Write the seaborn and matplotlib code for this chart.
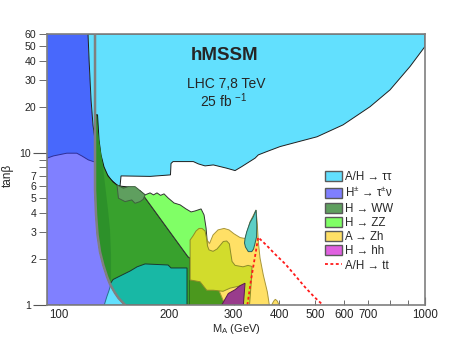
import matplotlib
matplotlib.use("Agg")
import matplotlib.pyplot as plt
from matplotlib.patches import Patch
from matplotlib.lines import Line2D
import seaborn as sns

# ---------------------------------------------------------------
# exclusion contours (mA in GeV, tan beta)
# ---------------------------------------------------------------
# grey limit curve
lep_mA = [125.4, 125.4, 126.2, 127.4, 129.4, 132.1, 135.3, 137.8, 142.2, 145.4, 151.5]
lep_tanb = [60, 5.7, 3.9, 2.88, 2.23, 1.83, 1.53, 1.37, 1.2, 1.11, 1.0]

# H+ -> tau nu, upper (dark blue) part
hpup_mA = [92.7, 120.0, 120.8, 122.3, 123.8, 125.4, 125.4, 92.7]
hpup_tanb = [60, 60, 40.6, 22.2, 15.2, 12.1, 8.0, 8.0]

# H+ -> tau nu, top edge of the lower part (right edge = grey curve)
hp_mA = [92.7, 96.5, 105.0, 111.8, 115.4, 120.2, 124.1, 125.4]
hp_tanb = [9.19, 9.51, 9.91, 9.91, 9.51, 8.96, 8.73, 8.69]

# A/H -> tautau, high tan beta
tautau_mA = [120.0, 1000, 1000, 910, 802.5, 707.6, 597, 507, 427.7, 401.7, 369.4,
             350.4, 343.2, 315.6, 302.7, 287.2, 264.0, 250.6, 240.3, 232.8, 204.9,
             202.3, 201.6, 177.3, 147.7, 146.8, 144.9, 138.7, 133.6, 130.2, 127.8,
             125.4, 123.8, 122.3, 120.8]
tautau_tanb = [60, 60, 49.7, 36.7, 25.8, 20.0, 15.2, 12.7, 11.4, 10.95, 10.15,
               9.66, 9.19, 8.09, 7.62, 7.90, 8.30, 8.18, 8.43, 8.73, 8.73,
               8.49, 7.14, 6.98, 7.03, 6.05, 6.05, 6.62, 7.47, 8.69, 10.1,
               12.1, 15.2, 22.2, 40.6]

# A/H -> tautau, low tan beta bits
taulow_mA = [132.9, 135.0, 137.0, 138.3, 142.2, 145.4, 151.5]
taulow_tanb = [1.0, 1.13, 1.25, 1.35, 1.2, 1.11, 1.0]

teal_mA = [137.8, 140.5, 146.8, 156.3, 163.4, 171.8, 198.6, 202.3, 223.7, 223.7,
           151.5, 145.4, 142.2]
teal_tanb = [1.37, 1.47, 1.55, 1.67, 1.78, 1.86, 1.83, 1.75, 1.75, 1.0,
             1.0, 1.11, 1.2]

# H -> WW (green), upper/right edge, closed along the grey curve
ww_mA = [126.0, 127.4, 128.6, 130.2, 132.7, 136.1, 140.5, 144.9, 154.3, 166.5,
         225.2, 228.1, 228.1]
ww_tanb = [17.7, 17.7, 12.1, 9.66, 8.06, 7.03, 6.42, 6.05, 5.95, 5.61,
           2.07, 2.03, 1.0]

wwstrip_mA = [126.0, 128.6, 131.1, 133.6, 136.1, 137.8, 138.7, 138.7]
wwstrip_tanb = [17.7, 12.1, 8.96, 6.14, 4.20, 3.11, 2.13, 1.42]

wwblob_mA = [144.0, 145.3, 151.5, 158.0, 161.3, 166.5, 169.9, 171.8, 164.7, 161.3, 154.6, 149.8]
wwblob_tanb = [6.14, 5.02, 4.77, 4.89, 4.65, 4.77, 4.94, 5.28, 5.75, 5.98, 5.98, 5.84]

# H -> ZZ
zz_mA = [166.5, 171.8, 177.3, 181.2, 185.2, 189.4, 193.6, 198.6, 206.2, 214.2,
         222.3, 229.5, 235.3, 244.4, 249.0, 252.2, 253.8, 253.8, 228.1, 225.2]
zz_tanb = [5.61, 5.28, 5.44, 5.28, 5.44, 5.24, 5.36, 5.04, 4.67, 4.54,
           4.27, 4.08, 4.14, 4.27, 3.90, 3.20, 2.67, 1.92, 2.03, 2.07]

# A -> Zh
zh_mA = [253.8, 257.7, 263.5, 271.9, 282.4, 291.4, 300.8, 312.4, 322.3, 332.6,
         345.4, 348.2, 350.4, 354.2, 361.6, 370.8, 375.5, 284.2, 253.8]
zh_tanb = [2.67, 2.53, 2.88, 3.11, 3.18, 3.11, 2.93, 2.77, 2.73, 3.51,
           4.20, 3.35, 2.59, 2.03, 1.57, 1.22, 1.0, 1.0, 1.92]
zhbump_mA = [381, 386, 390, 395, 399]
zhbump_tanb = [1.0, 1.06, 1.09, 1.06, 1.0]

# A -> Zh overlapping H -> ZZ
zhzz_mA = [228.1, 228.1, 232.3, 236.8, 241.3, 245.9, 250.6, 252.9, 254.5, 256.9,
           263.5, 270.2, 275.4, 281.1, 287.2, 292.0, 294.2, 297.0, 302.7, 318.2,
           328.4, 336.8, 334.7, 331.5, 318.9, 318.9, 293.3, 280.6, 264.0, 253.3, 242.9]
zhzz_tanb = [1.46, 2.67, 2.84, 3.06, 3.18, 3.18, 3.06, 2.75, 2.44, 2.30,
             2.25, 2.33, 2.46, 2.61, 2.63, 2.52, 2.23, 1.93, 1.82, 1.78,
             1.82, 1.79, 1.35, 1.0, 1.0, 1.35, 1.29, 1.23, 1.25, 1.25, 1.42]
olive_mA = [228.1, 320.0, 320.0, 228.1]
olive_tanb = [1.0, 1.0, 1.5, 1.5]

# A/H -> tautau low tan beta inside A -> Zh
drop_mA = [322.3, 325.7, 332.6, 339.6, 343.2, 345.4, 347.0, 346.5, 343.2, 340.0,
           336.2, 329.0, 323.2, 321.2]
drop_tanb = [2.73, 3.02, 3.48, 3.80, 4.05, 4.20, 3.35, 2.80, 2.54, 2.33,
             2.24, 2.24, 2.40, 2.55]

# H -> hh
hh_mA = [278.3, 290.1, 302.7, 312.4, 322.3, 318.9]
hh_tanb = [1.0, 1.19, 1.26, 1.34, 1.39, 1.0]

# A/H -> tt (expected, dashed)
tt_mA = [327, 329, 334, 340, 345, 350, 368, 389, 415, 441, 470, 498, 526]
tt_tanb = [1.0, 1.1, 1.42, 1.83, 2.24, 2.78, 2.48, 2.16, 1.86, 1.57, 1.31, 1.13, 1.0]

legend_labels = ["A/H → ττ", "H$^{\\pm}$ → τ$^{\\pm}$ν", "H → WW", "H → ZZ",
                 "A → Zh", "H → hh", "A/H → tt"]
legend_colors = ["#62DFFE", "#7F7FFF", "#5F9F5F", "#80FF66", "#FFE066", "#E060E0"]

x_ticks = [200, 300, 400, 500, 600, 700, 800, 900]
x_ticklabels = ["200", "300", "400", "500", "600", "700", "", ""]
y_ticks = [2, 3, 4, 5, 6, 7, 8, 9, 20, 30, 40, 50, 60]
y_ticklabels = ["2", "3", "4", "5", "6", "7", "", "", "20", "30", "40", "50", "60"]

# ---------------------------------------------------------------
sns.set_style("ticks")
plt.rcParams["font.family"] = ["Liberation Sans", "DejaVu Sans"]
plt.rcParams["mathtext.fontset"] = "custom"
plt.rcParams["mathtext.rm"] = "Liberation Sans"
plt.rcParams["mathtext.it"] = "Liberation Sans:italic"

fig = plt.figure(figsize=(4.73, 3.40), dpi=100)
ax = fig.add_axes([47 / 473, 35 / 340, 378 / 473, 271 / 340])
ax.set_xscale("log")
ax.set_yscale("log")


def region(xs, ys, fc, ec="none", lw=0.7):
    ax.fill(xs, ys, facecolor=fc, edgecolor=ec, linewidth=lw)


# the lower H+ region and the WW region are closed along the grey curve
lep_low = [i for i, t in enumerate(lep_tanb) if t < 8.69]
hp_x = hp_mA + [lep_mA[i] for i in lep_low] + [92.7]
hp_y = hp_tanb + [lep_tanb[i] for i in lep_low] + [1.0]
ww_x = ww_mA + [lep_mA[i] for i in reversed(lep_low)]
ww_y = ww_tanb + [lep_tanb[i] for i in reversed(lep_low)]
strip_low = [i for i in reversed(lep_low) if lep_tanb[i] > 1.4]
strip_x = wwstrip_mA + [lep_mA[i] for i in strip_low]
strip_y = wwstrip_tanb + [lep_tanb[i] for i in strip_low]

region(hpup_mA, hpup_tanb, "#4868FC")
region(hp_x, hp_y, "#8080FF", "#2E2E96")
region(tautau_mA, tautau_tanb, "#62E0FE", "#1E1E1E")
region(taulow_mA, taulow_tanb, "#62E0FE", "#2B6F8F")
region(ww_x, ww_y, "#38A12D", "#151515")
region(strip_x, strip_y, "#2D912A")
region(teal_mA, teal_tanb, "#18B8A5", "#1A3A30")
region(zz_mA, zz_tanb, "#80FF66", "#333333")
region(wwblob_mA, wwblob_tanb, "#5F9F5F", "#3F5F3F")
region(olive_mA, olive_tanb, "#4B981E")
region(zh_mA, zh_tanb, "#FFE066", "#A8963A")
region(zhbump_mA, zhbump_tanb, "#FFE066", "#A8963A")
region(zhzz_mA, zhzz_tanb, "#D2DC2C", "#8C8C28")
region(drop_mA, drop_tanb, "#5BCFC5", "#2A5F5A")
region(hh_mA, hh_tanb, "#993C8C", "#5A1A50")

sns.lineplot(x=lep_mA, y=lep_tanb, sort=False, color="#808080", linewidth=1.8,
             estimator=None, ax=ax)
sns.lineplot(x=tt_mA, y=tt_tanb, sort=False, color="#FF1A1A", linewidth=1.3,
             estimator=None, ax=ax, linestyle=(0, (1.6, 1.4)))

ax.set_xlim(92.7, 1000)
ax.set_ylim(1, 60)

ax.set_xticks([100, 1000], labels=["100", "1000"])
ax.set_xticks(x_ticks, labels=x_ticklabels, minor=True)
ax.set_yticks([1, 10], labels=["1", "10"])
ax.set_yticks(y_ticks, labels=y_ticklabels, minor=True)
ax.tick_params(axis="x", which="both", direction="in", labelsize=8.3, pad=3,
               color="#555555")
ax.tick_params(axis="x", which="major", length=6)
ax.tick_params(axis="x", which="minor", length=3.5)
ax.tick_params(axis="y", which="both", direction="out", labelsize=7.6, pad=1.5,
               color="#555555")
ax.tick_params(axis="y", which="major", length=10)
ax.tick_params(axis="y", which="minor", length=6)
for sp in ax.spines.values():
    sp.set_visible(True)
    sp.set_color("#7F7F7F")
    sp.set_linewidth(1.2)

ax.set_xlabel("M$_{\\mathrm{A}}$ (GeV)", fontsize=8)
ax.xaxis.set_label_coords(0.5, -0.064)
ax.set_ylabel("tanβ", fontsize=8.5)
ax.yaxis.set_label_coords(-0.088, 0.48)

ax.text(0.471, 0.919, "hMSSM", transform=ax.transAxes, ha="center", va="center",
        fontsize=13.5, fontweight="bold")
ax.text(0.473, 0.815, "LHC 7,8 TeV", transform=ax.transAxes, ha="center",
        va="center", fontsize=10)
ax.text(0.468, 0.753, "25 fb $^{-1}$", transform=ax.transAxes, ha="center",
        va="center", fontsize=10)

handles = [Patch(facecolor=c, edgecolor="#5A5A5A", linewidth=1.0) for c in legend_colors]
handles.append(Line2D([0], [0], color="#FF1A1A", linewidth=1.3, linestyle=(0, (1.6, 1.4))))
ax.legend(handles, legend_labels, loc="upper left", bbox_to_anchor=(0.723, 0.51),
          frameon=False, fontsize=8.3, handlelength=1.45, handleheight=0.95,
          handletextpad=0.25, labelspacing=0.2, borderaxespad=0.0)

fig.savefig("out.png", dpi=100)
